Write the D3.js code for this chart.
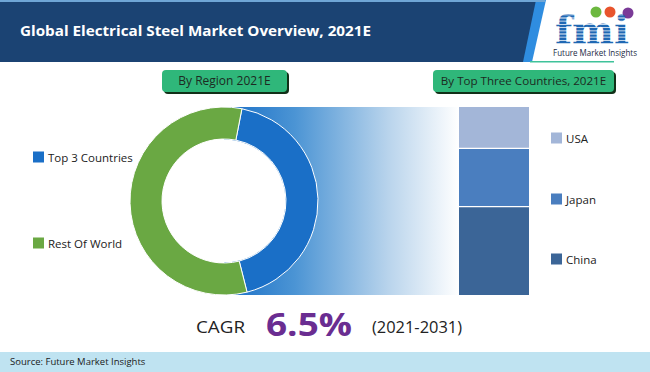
<!DOCTYPE html>
<html><head><meta charset="utf-8">
<script src="https://cdn.jsdelivr.net/npm/d3@7"></script>
<style>html,body{margin:0;padding:0;background:#fff;}svg{display:block;}</style>
</head><body>
<script>
const title = "Global Electrical Steel Market Overview, 2021E";
const regionLabels = ["Top 3 Countries", "Rest Of World"];
const regionShares = [43, 57];
const regionColors = ["#1a6fc7", "#6aa843"];
const countryLabels = ["USA", "Japan", "China"];
const countryShares = [22, 31, 47];
const countryColors = ["#a3b6d8", "#4a7ebf", "#3b6597"];
const cagrValue = "6.5%";
const cagrPeriod = "(2021-2031)";
const panelTitles = ["By Region 2021E", "By Top Three Countries, 2021E"];
const source = "Source: Future Market Insights";

const W = 650, H = 372;
const svg = d3.select("body").append("svg").attr("width", W).attr("height", H);
const defs = svg.append("defs");
const font = "'Open Sans', 'Noto Sans', sans-serif";

// header
svg.append("rect").attr("x",0).attr("y",0).attr("width",W).attr("height",H).attr("fill","#fff");
svg.append("path").attr("d","M0,0 L545,0 L531,62 L0,62 Z").attr("fill","#1b4373");
svg.append("path").attr("d","M536,0 L546,0 L532,62 L523,62 Z").attr("fill","#2f8de0");
svg.append("rect").attr("x",0).attr("y",0).attr("width",545).attr("height",2).attr("fill","#6fa6d6");
svg.append("text").attr("x",20).attr("y",36).attr("fill","#fff")
  .attr("font-family",font).attr("font-weight",700).attr("font-size",15)
  .attr("textLength",351).attr("lengthAdjust","spacingAndGlyphs").text(title);

// logo
const logo = svg.append("g");
[["#6cb83f",596,12],["#e8542d",610,12],["#7a3a97",628,13]].forEach(([c,x,y])=>{
  logo.append("circle").attr("cx",x).attr("cy",y).attr("r",5.5).attr("fill",c);
});
defs.append("clipPath").attr("id","stripes").selectAll("rect")
  .data(d3.range(0,12)).join("rect")
  .attr("x",540).attr("y",d=>12+d*3.2).attr("width",110).attr("height",2.4);
logo.append("text").attr("x",592).attr("y",44).attr("text-anchor","middle")
  .attr("font-family","'DejaVu Serif', serif").attr("font-weight",700).attr("font-size",40)
  .attr("fill","#1f68b3").attr("clip-path","url(#stripes)")
  .attr("textLength",74).attr("lengthAdjust","spacingAndGlyphs").text("fmi");
logo.append("text").attr("x",595).attr("y",56).attr("text-anchor","middle")
  .attr("font-family",font).attr("font-size",8.5).attr("fill","#1b2a44")
  .attr("textLength",84).attr("lengthAdjust","spacingAndGlyphs").text("Future Market Insights");
svg.append("rect").attr("x",530).attr("y",61).attr("width",84).attr("height",1.5).attr("fill","#3fc29a");

// panel title buttons
function button(x,y,w,h,txt,fs){
  svg.append("rect").attr("x",x+2).attr("y",y+2).attr("width",w).attr("height",h).attr("rx",4).attr("fill","#123018");
  svg.append("rect").attr("x",x).attr("y",y).attr("width",w).attr("height",h).attr("rx",4).attr("fill","#2fb77a");
  svg.append("text").attr("x",x+w/2).attr("y",y+h/2+4).attr("text-anchor","middle")
    .attr("font-family",font).attr("font-size",fs).attr("fill","#1d2a22").text(txt);
}
button(162,70,125,22,panelTitles[0],12);
button(433,70,181,22,panelTitles[1],11.6);

// donut
const cx = 224, cy = 201, R = 94, r0 = 62;
const barX0 = 459, barX1 = 529, barTop = 107, barBot = 295;

const grad = defs.append("linearGradient").attr("id","fade").attr("x1","0").attr("x2","1").attr("y1","0").attr("y2","0");
grad.append("stop").attr("offset","0").attr("stop-color","#1a6fc7");
grad.append("stop").attr("offset","0.3").attr("stop-color","#4b94d4");
grad.append("stop").attr("offset","0.7").attr("stop-color","#b9d4ec");
grad.append("stop").attr("offset","1").attr("stop-color","#ffffff");
svg.append("rect").attr("x",cx).attr("y",barTop).attr("width",barX0-cx).attr("height",barBot-barTop).attr("fill","url(#fade)");

const pie = d3.pie().sort(null).startAngle(11*Math.PI/180).endAngle(11*Math.PI/180 + 2*Math.PI);
const arc = d3.arc().innerRadius(r0).outerRadius(R);
const arcs = pie(regionShares);
const dg = svg.append("g").attr("transform",`translate(${cx},${cy})`);
dg.selectAll("path").data(arcs).join("path").attr("d",arc)
  .attr("fill",(d,i)=>regionColors[i]).attr("stroke","#fff").attr("stroke-width",1);
svg.append("circle").attr("cx",cx).attr("cy",cy).attr("r",r0-0.5).attr("fill","#fff");

// left legend
const legY = [157, 243];
regionLabels.forEach((l,i)=>{
  svg.append("rect").attr("x",33).attr("y",legY[i]-5.5).attr("width",11).attr("height",11).attr("fill",regionColors[i]);
  svg.append("text").attr("x",48).attr("y",legY[i]+4.5).attr("font-family",font).attr("font-size",11.5)
    .attr("fill","#222").text(l);
});

// stacked bar
const y = d3.scaleLinear().domain([0, d3.sum(countryShares)]).range([barTop, barBot]);
let acc = 0;
const stacks = countryShares.map(v=>{const s={y0:acc,y1:acc+v}; acc+=v; return s;});
svg.append("g").selectAll("rect").data(stacks).join("rect")
  .attr("x",barX0).attr("width",barX1-barX0)
  .attr("y",d=>y(d.y0)).attr("height",d=>y(d.y1)-y(d.y0))
  .attr("fill",(d,i)=>countryColors[i]);
svg.append("g").selectAll("line").data(stacks.slice(1)).join("line")
  .attr("x1",barX0).attr("x2",barX1).attr("y1",d=>y(d.y0)).attr("y2",d=>y(d.y0))
  .attr("stroke","#fff").attr("stroke-width",1.2);

const rLegY = [138, 199, 259];
countryLabels.forEach((l,i)=>{
  svg.append("rect").attr("x",551).attr("y",rLegY[i]-5.5).attr("width",11).attr("height",11).attr("fill",countryColors[i]);
  svg.append("text").attr("x",566).attr("y",rLegY[i]+4.5).attr("font-family",font).attr("font-size",11.5)
    .attr("fill","#222").text(l);
});

// CAGR
svg.append("text").attr("x",196).attr("y",333).attr("font-family",font).attr("font-size",16)
  .attr("fill","#222").attr("textLength",49).attr("lengthAdjust","spacingAndGlyphs").text("CAGR");
svg.append("text").attr("x",266).attr("y",336).attr("font-family",font).attr("font-weight",700).attr("font-size",33)
  .attr("fill","#6a2d91").attr("textLength",86).attr("lengthAdjust","spacingAndGlyphs").text(cagrValue);
svg.append("text").attr("x",372).attr("y",333).attr("font-family",font).attr("font-size",16)
  .attr("fill","#222").attr("textLength",90).attr("lengthAdjust","spacingAndGlyphs").text(cagrPeriod);

// footer
svg.append("rect").attr("x",0).attr("y",352).attr("width",W).attr("height",20).attr("fill","#bfe3f1");
svg.append("text").attr("x",10).attr("y",365).attr("font-family",font).attr("font-size",9.5)
  .attr("fill","#1a1a1a").text(source);
</script>
</body></html>
